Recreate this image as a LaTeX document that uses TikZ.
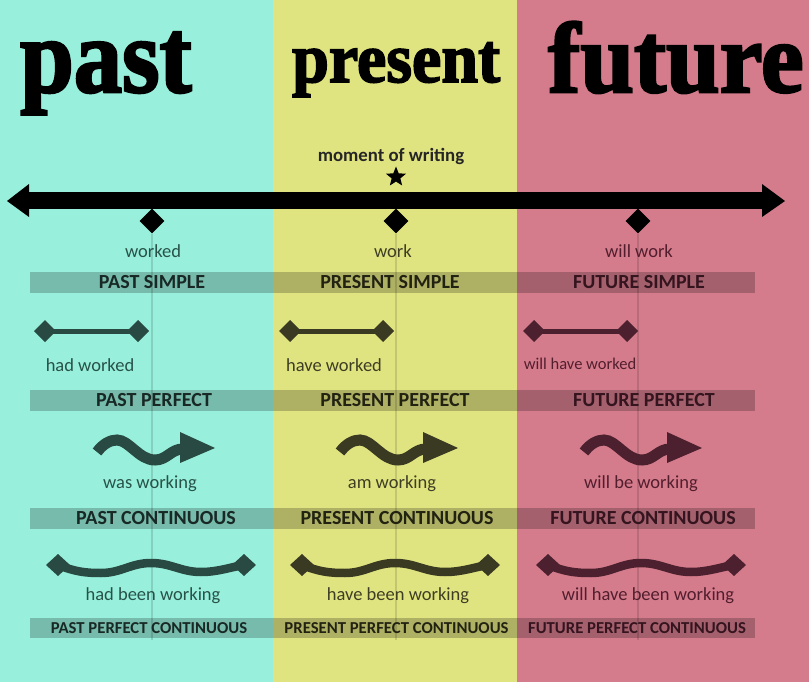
\documentclass[tikz,border=0pt]{standalone}
\usepackage{fontspec}
\usepackage{graphicx}
\setmainfont{Carlito}
\newfontfamily\titlefont{Liberation Serif}[UprightFont={* Bold},FakeBold=2.5]
\usetikzlibrary{shapes.geometric}
\definecolor{bgC}{RGB}{152,240,220}
\definecolor{bgY}{RGB}{224,228,128}
\definecolor{bgP}{RGB}{212,124,140}
\definecolor{icC}{RGB}{40,74,66}
\definecolor{icY}{RGB}{58,58,34}
\definecolor{icP}{RGB}{76,32,46}
\definecolor{lbC}{RGB}{40,82,72}
\definecolor{lbY}{RGB}{62,62,36}
\definecolor{lbP}{RGB}{82,30,46}
\definecolor{btC}{RGB}{24,40,36}
\definecolor{btY}{RGB}{34,34,18}
\definecolor{btP}{RGB}{52,20,30}
\newcommand\mybarbell[4]{%
  \draw[#4, line width=5] (#1,#3) -- (#2,#3);
  \fill[#4] (#1-11,#3) -- (#1,#3-11) -- (#1+11,#3) -- (#1,#3+11) -- cycle;
  \fill[#4] (#2-11,#3) -- (#2,#3-11) -- (#2+11,#3) -- (#2,#3+11) -- cycle;}
\newcommand\mywavearrow[3]{%
  \begin{scope}[shift={(#1,#2)}]
  \draw[#3, line width=11] (0,4) .. controls (6,-4) and (13,-8) .. (20,-8) .. controls (32,-8) and (42,12) .. (58,12) .. controls (70,12) and (74,1) .. (86,1);
  \fill[#3] (83,-16) -- (118,0) -- (83,15) -- cycle;
  \end{scope}}
\newcommand\mywavebar[3]{%
  \begin{scope}[shift={(#1,#2)}]
  \draw[#3, line width=8.5] (12,0) .. controls (30,7) and (40,8) .. (55,8) .. controls (75,8) and (85,-2) .. (105,-2) .. controls (125,-2) and (135,7) .. (155,7) .. controls (172,7) and (185,2) .. (198,0);
  \fill[#3] (0,0) -- (12,-11) -- (24,0) -- (12,11) -- cycle;
  \fill[#3] (186,0) -- (198,-11) -- (210,0) -- (198,11) -- cycle;
  \end{scope}}
\begin{document}
\begin{tikzpicture}[x=1pt,y=-1pt,
  ttl/.style={anchor=base west, inner sep=0, text=black, font=\titlefont},
  lbl/.style={inner sep=0, font=\fontsize{18.5}{20}\selectfont},
  lblsm/.style={inner sep=0, font=\fontsize{16.5}{18}\selectfont},
  bandtxt/.style={inner sep=0, font=\bfseries\fontsize{20}{22}\selectfont},
  bandsm/.style={inner sep=0, font=\bfseries\fontsize{16.7}{18}\selectfont},
  band/.style={fill=black, fill opacity=0.22, draw=none},
  tick/.style={diamond, fill=black, inner sep=0, minimum size=25pt},
  vline/.style={draw=black, draw opacity=0.13, line width=1.6}]
\useasboundingbox (0,0) rectangle (809,682);
% backgrounds
\fill[bgC] (0,0) rectangle (273,682);
\fill[bgY] (273,0) rectangle (517,682);
\fill[bgP] (517,0) rectangle (809,682);
% titles
\node[ttl, font=\titlefont\fontsize{106}{106}\selectfont] (tpast) at (20,92) {\scalebox{0.91}[1]{past}};
\node[ttl, font=\titlefont\fontsize{70}{70}\selectfont] (tpres) at (292,82) {\scalebox{0.943}[1]{present}};
\node[ttl, font=\titlefont\fontsize{100}{100}\selectfont] (tfut) at (548,92) {\scalebox{0.965}[1]{future}};
% bands
\fill[band] (30,272) rectangle (755,293);
\fill[band] (30,390) rectangle (755,411);
\fill[band] (30,508) rectangle (755,529);
\fill[band] (30,618) rectangle (755,638);
% timeline diamonds
\node[tick] (dpast) at (152,221) {};
\node[tick] (dpres) at (396,221) {};
\node[tick] (dfut) at (638,221) {};
\coordinate (epast) at (152,640);
\coordinate (epres) at (396,640);
\coordinate (efut) at (638,640);
\draw[vline] (dpast.south) -- (epast);
\draw[vline] (dpres.south) -- (epres);
\draw[vline] (dfut.south) -- (efut);
% timeline arrow
\coordinate (tl) at (28,200.5);
\coordinate (tr) at (763,200.5);
\draw[black, line width=17] (tl) -- (tr);
\fill[black] (7,201) -- (29,184) -- (29,217) -- cycle;
\fill[black] (785,201) -- (762,184) -- (762,217) -- cycle;
% moment of writing
\node[star, star points=5, star point ratio=2.3, fill=black, inner sep=0, minimum size=21pt] (star) at (396,177) {};
\node[inner sep=0, font=\bfseries\fontsize{18.8}{20}\selectfont, text=black!85] (mow) at (391,156) {moment of writing};
% row 1
\node[lbl, text=lbC] (l1a) at (153,251) {worked};
\node[lbl, text=lbY] (l1b) at (393,251) {work};
\node[lbl, text=lbP] (l1c) at (639,251) {will work};
\node[bandtxt, text=btC] (b1a) at (152,282.5) {PAST SIMPLE};
\node[bandtxt, text=btY] (b1b) at (390,282.5) {PRESENT SIMPLE};
\node[bandtxt, text=btP] (b1c) at (639,282.5) {FUTURE SIMPLE};
% row 2
\mybarbell{45}{138}{331}{icC}
\mybarbell{290}{383}{331}{icY}
\mybarbell{534}{627}{331}{icP}
\node[lbl, text=lbC] (l2a) at (90,365) {had worked};
\node[lbl, text=lbY] (l2b) at (334,365) {have worked};
\node[lblsm, text=lbP] (l2c) at (580,364) {will have worked};
\node[bandtxt, text=btC] (b2a) at (154,400.5) {PAST PERFECT};
\node[bandtxt, text=btY] (b2b) at (395,400.5) {PRESENT PERFECT};
\node[bandtxt, text=btP] (b2c) at (644,400.5) {FUTURE PERFECT};
% row 3
\mywavearrow{97}{448}{icC}
\mywavearrow{340}{448}{icY}
\mywavearrow{584}{448}{icP}
\node[lbl, text=lbC] (l3a) at (150,484) {was working};
\node[lbl, text=lbY] (l3b) at (392,484) {am working};
\node[lbl, text=lbP] (l3c) at (641,484) {will be working};
\node[bandtxt, text=btC] (b3a) at (156,518) {PAST CONTINUOUS};
\node[bandtxt, text=btY] (b3b) at (397,518) {PRESENT CONTINUOUS};
\node[bandtxt, text=btP] (b3c) at (643,518) {FUTURE CONTINUOUS};
% row 4
\mywavebar{46}{565}{icC}
\mywavebar{290}{565}{icY}
\mywavebar{536}{565}{icP}
\node[lbl, text=lbC] (l4a) at (153,596) {had been working};
\node[lbl, text=lbY] (l4b) at (398,596) {have been working};
\node[lbl, text=lbP] (l4c) at (648,596) {will have been working};
\node[bandsm, text=btC] (b4a) at (149,628) {PAST PERFECT CONTINUOUS};
\node[bandsm, text=btY] (b4b) at (396.5,628) {PRESENT PERFECT CONTINUOUS};
\node[bandsm, text=btP] (b4c) at (637,628) {FUTURE PERFECT CONTINUOUS};
\end{tikzpicture}
\end{document}
